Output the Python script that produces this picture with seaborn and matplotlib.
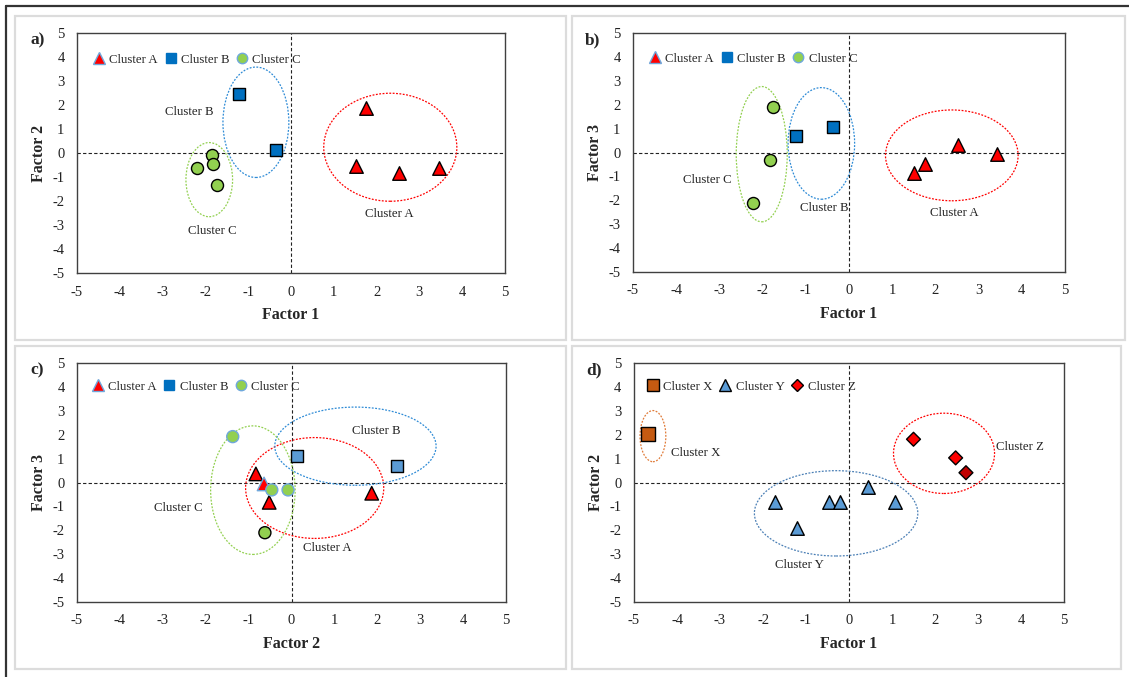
import matplotlib
matplotlib.use("Agg")
import matplotlib.pyplot as plt
import seaborn as sns
import pandas as pd
from matplotlib.patches import Ellipse, Rectangle
from matplotlib.lines import Line2D

# ---------------- data ----------------
# panel a: Factor 1 vs Factor 2
a_A_f1 = [1.76, 1.51, 2.53, 3.45]
a_A_f2 = [1.87, -0.53, -0.82, -0.64]
a_B_f1 = [-1.21, -0.36]
a_B_f2 = [2.47, 0.14]
a_C_f1 = [-1.85, -1.83, -2.20, -1.74]
a_C_f2 = [-0.07, -0.45, -0.61, -1.35]

# panel b: Factor 1 vs Factor 3
b_A_f1 = [1.50, 1.75, 2.53, 3.43]
b_A_f3 = [-0.85, -0.48, 0.31, -0.06]
b_B_f1 = [-1.22, -0.36]
b_B_f3 = [0.68, 1.08]
b_C_f1 = [-1.76, -1.84, -2.22]
b_C_f3 = [1.90, -0.31, -2.12]

# panel c: Factor 2 vs Factor 3
c_A_f2 = [-0.83, -0.64, -0.52, 1.87]
c_A_f3 = [0.36, -0.06, -0.83, -0.45]
c_B_f2 = [0.12, 2.47]
c_B_f3 = [1.11, 0.69]
c_C_f2 = [-1.37, -0.46, -0.08, -0.62]
c_C_f3 = [1.92, -0.31, -0.31, -2.10]

# panel d: Factor 1 vs Factor 2 (X, Y, Z clusters)
d_X_f1 = [-4.67]
d_X_f2 = [2.05]
d_Y_f1 = [-1.72, -1.22, -0.47, -0.22, 0.45, 1.07]
d_Y_f2 = [-0.83, -1.90, -0.83, -0.83, -0.17, -0.83]
d_Z_f1 = [1.50, 2.48, 2.72]
d_Z_f2 = [1.81, 1.03, 0.41]
d_Z_shade = ["Z", "Z", "Z2"]

ticks = [-5, -4, -3, -2, -1, 0, 1, 2, 3, 4, 5]

# ---------------- style ----------------
sns.set_style("white")
plt.rcParams["font.family"] = ["Liberation Serif", "DejaVu Serif"]

RED = "#ff0000"
BLUE = "#0070c0"
LBLUE = "#5b9bd5"
GREEN = "#92d050"
ORANGE = "#c55a11"
DRED = "#c00000"
EDGE_LB = "#6fa8dc"

W, H = 1129, 677
fig = plt.figure(figsize=(W / 100, H / 100), dpi=100)

def fx(px):
    return px / W

def fy(py):
    return 1 - py / H

# panel frames
for (x0, y0, x1, y1) in [(15, 16, 566, 340), (572, 16, 1125, 340),
                         (15, 346, 566, 669), (572, 346, 1121, 669)]:
    fig.patches.append(Rectangle((fx(x0), fy(y1)), fx(x1 - x0), (y1 - y0) / H,
                                 transform=fig.transFigure, fill=False,
                                 edgecolor="#dcdcdc", lw=1.6, zorder=0))
# outer frame lines
fig.add_artist(Line2D([fx(6), fx(6)], [0, fy(6)], transform=fig.transFigure,
                      color="#333333", lw=1.6))
fig.add_artist(Line2D([fx(6), 1], [fy(6), fy(6)], transform=fig.transFigure,
                      color="#333333", lw=1.6))

def make_ax(l, t, r, b):
    return fig.add_axes([fx(l), fy(b), fx(r - l), (b - t) / H])

axa = make_ax(77, 33, 505, 273)
axb = make_ax(633, 33, 1065, 272)
axc = make_ax(77, 363, 506, 602)
axd = make_ax(634, 363, 1064, 602)

def base(ax, xlabel, ylabel, tag):
    ax.set_xlim(-5, 5)
    ax.set_ylim(-5, 5)
    ax.set_xticks(ticks)
    ax.set_yticks(ticks)
    ax.set_xticklabels([str(t) for t in ticks])
    ax.set_yticklabels([str(t) for t in ticks])
    ax.tick_params(axis="both", direction="in", length=4, width=0.9,
                   color="#404040", labelsize=10.5, labelcolor="#222222")
    ax.tick_params(axis="x", pad=9)
    ax.tick_params(axis="y", pad=9)
    ax.tick_params(top=False, right=False)
    for s in ax.spines.values():
        s.set_color("#404040")
        s.set_linewidth(1.0)
    ax.set_xlabel(xlabel, fontsize=11.5, fontweight="bold", labelpad=6)
    ax.set_ylabel(ylabel, fontsize=11.5, fontweight="bold", labelpad=4)
    ax.axvline(0, color="#222222", lw=0.8, ls=(0, (3, 2)), zorder=1)
    ax.axhline(0, color="#222222", lw=0.8, ls=(0, (3, 2)), zorder=1)
    ax.text(-0.093, 0.97, tag, transform=ax.transAxes, fontsize=12.5,
            fontweight="bold", ha="center", va="center")
    ax.grid(False)

def ell(ax, cx, cy, w, h, color):
    ax.add_patch(Ellipse((cx, cy), w, h, fill=False, edgecolor=color, lw=0.9,
                         ls=(0, (1.5, 1.2)), zorder=2))

def lab(ax, x, y, s):
    ax.text(x, y, s, fontsize=9.2, ha="center", va="center", color="#222222")

def legend(ax, items, x=0.038, y=0.888):
    handles = [Line2D([], [], ls="none", marker=m, markersize=ms,
                      markerfacecolor=fc, markeredgecolor=ec, markeredgewidth=1.0,
                      label=l) for (m, ms, fc, ec, l) in items]
    ax.legend(handles=handles, loc="center left", bbox_to_anchor=(x, y),
              ncol=3, frameon=False, fontsize=9.2, handlelength=0.9,
              handletextpad=0.35, columnspacing=0.55, borderpad=0,
              borderaxespad=0)

def pts(ax, x, y, marker, s, color, edge="black", **kw):
    sns.scatterplot(x=x, y=y, ax=ax, marker=marker, s=s, color=color,
                    edgecolor=edge, linewidth=1.0, zorder=4, legend=False, **kw)

abc_items = [("^", 8, RED, EDGE_LB, "Cluster A"),
             ("s", 6.5, BLUE, BLUE, "Cluster B"),
             ("o", 7.5, GREEN, EDGE_LB, "Cluster C")]

TRI, SQ, CIR = 95, 85, 75

# ---- panel a ----
base(axa, "Factor 1", "Factor 2", "a)")
ell(axa, 2.32, 0.24, 3.11, 4.5, RED)
ell(axa, -0.82, 1.28, 1.54, 4.6, "#2e8bd6")
ell(axa, -1.91, -1.11, 1.09, 3.09, GREEN)
pts(axa, a_A_f1, a_A_f2, "^", TRI, RED)
pts(axa, a_B_f1, a_B_f2, "s", SQ, BLUE)
pts(axa, a_C_f1, a_C_f2, "o", CIR, GREEN)
lab(axa, -2.37, 1.70, "Cluster B")
lab(axa, -1.84, -3.25, "Cluster C")
lab(axa, 2.30, -2.55, "Cluster A")
legend(axa, abc_items)

# ---- panel b ----
base(axb, "Factor 1", "Factor 3", "b)")
ell(axb, 2.38, -0.12, 3.07, 3.80, RED)
ell(axb, -0.64, 0.38, 1.54, 4.67, "#2e8bd6")
ell(axb, -2.02, -0.07, 1.18, 5.66, GREEN)
pts(axb, b_A_f1, b_A_f3, "^", TRI, RED)
pts(axb, b_B_f1, b_B_f3, "s", SQ, BLUE)
pts(axb, b_C_f1, b_C_f3, "o", CIR, GREEN)
lab(axb, -3.28, -1.17, "Cluster C")
lab(axb, -0.58, -2.34, "Cluster B")
lab(axb, 2.44, -2.55, "Cluster A")
legend(axb, abc_items, x=0.038, y=0.893)

# ---- panel c ----
base(axc, "Factor 2", "Factor 3", "c)")
ell(axc, 0.54, -0.23, 3.22, 4.22, RED)
ell(axc, 1.49, 1.52, 3.76, 3.27, "#2e8bd6")
ell(axc, -0.90, -0.32, 1.97, 5.38, GREEN)
pts(axc, c_A_f2, c_A_f3, "^", TRI, RED, edge=["black", EDGE_LB, "black", "black"])
pts(axc, c_B_f2, c_B_f3, "s", SQ, LBLUE)
pts(axc, c_C_f2, c_C_f3, "o", CIR, GREEN, edge=[EDGE_LB, EDGE_LB, EDGE_LB, "black"])
lab(axc, 1.98, 2.17, "Cluster B")
lab(axc, -2.64, -1.08, "Cluster C")
lab(axc, 0.83, -2.75, "Cluster A")
legend(axc, abc_items, x=0.035, y=0.90)

# ---- panel d ----
base(axd, "Factor 1", "Factor 2", "d)")
ell(axd, -4.56, 1.94, 0.60, 2.14, "#e07b39")
ell(axd, -0.30, -1.29, 3.80, 3.57, "#4a7fb5")
ell(axd, 2.21, 1.22, 2.35, 3.36, RED)
pts(axd, d_X_f1, d_X_f2, "s", 100, ORANGE)
pts(axd, d_Y_f1, d_Y_f2, "^", TRI, LBLUE)
sns.scatterplot(x=d_Z_f1, y=d_Z_f2, hue=d_Z_shade, palette={"Z": RED, "Z2": DRED},
                ax=axd, marker="D", s=50, edgecolor="black", linewidth=1.0,
                zorder=4, legend=False)
lab(axd, -3.57, 1.22, "Cluster X")
lab(axd, 3.98, 1.47, "Cluster Z")
lab(axd, -1.16, -3.45, "Cluster Y")
legend(axd, [("s", 8, ORANGE, "black", "Cluster X"),
             ("^", 8, LBLUE, "black", "Cluster Y"),
             ("D", 6, RED, "black", "Cluster Z")], x=0.031, y=0.90)

fig.savefig("out.png", dpi=100)
